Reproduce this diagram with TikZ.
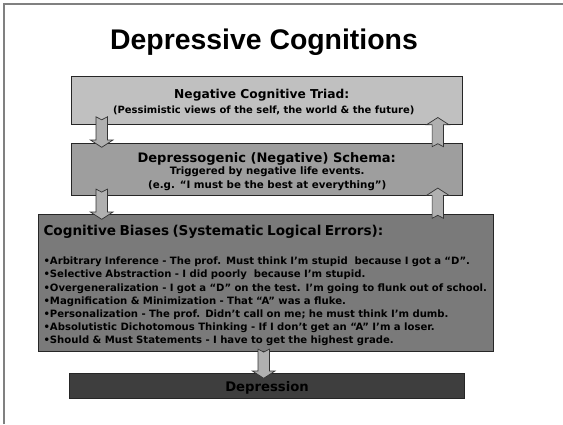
\documentclass[tikz,border=0pt]{standalone}
\usepackage{fontspec}
\setmainfont{DejaVu Sans}
\newfontfamily\headfont{Liberation Sans}
\usetikzlibrary{calc}

\newcommand{\blockarrow}[2]{%
  \filldraw[blockarr] let \p1=#1, \p2=#2, \n1={sign(\y2-\y1)} in
    ({\x1-5.7pt},\y1) -- (\x1,{\y1+\n1*3pt}) -- ({\x1+5.7pt},\y1)
    -- ({\x1+5.7pt},{\y2-\n1*7.3pt}) -- ({\x1+11.3pt},{\y2-\n1*7.3pt}) -- (\x1,\y2)
    -- ({\x1-11.3pt},{\y2-\n1*7.3pt}) -- ({\x1-5.7pt},{\y2-\n1*7.3pt}) -- cycle;
}

\begin{document}
\begin{tikzpicture}[x=1pt,y=-1pt,
    box/.style={draw=black!85,line width=0.8pt,anchor=north west,inner sep=0pt},
    line/.style={anchor=base,inner sep=0pt,font=\bfseries\fontsize{#1}{#1}\selectfont},
    blockarr/.style={fill=arrowgray,draw=black!80,line width=0.7pt,line join=miter}]
  \definecolor{triadgray}{RGB}{192,192,192}
  \definecolor{schemagray}{RGB}{158,158,158}
  \definecolor{biasgray}{RGB}{122,122,122}
  \definecolor{depgray}{RGB}{62,62,62}
  \definecolor{arrowgray}{RGB}{176,176,176}
  \useasboundingbox[fill=white] (0,0) rectangle (563,424);
  \draw[gray,line width=1.3pt] (4,424) -- (4,4) -- (563,4);
  \node[anchor=base,font=\headfont\bfseries\fontsize{28.4}{30}\selectfont] (title) at (264,49.3) {Depressive Cognitions};
  \node[box,fill=triadgray,minimum width=390.7,minimum height=48] (triad) at (71,76) {};
  \node[line=12.25] (triadhead) at ($(triad.north)+(-5,22.5)$) {Negative Cognitive Triad:};
  \node[line=9.97] (triadsub) at ($(triad.north)+(-3,37.6)$) {(Pessimistic views of the self, the world \& the future)};
  \node[box,fill=schemagray,minimum width=390.7,minimum height=52.3] (schema) at (71,142.7) {};
  \node[line=13.05] (schemahead) at ($(schema.north)+(0,19.3)$) {Depressogenic (Negative) Schema:};
  \node[line=10.2] (schemasub) at ($(schema.north)+(0.5,32.2)$) {Triggered by negative life events.};
  \node[line=10.3] (schemaex) at ($(schema.north)+(0.5,45.3)$) {(e.g. “I must be the best at everything”)};
  \node[box,fill=biasgray,minimum width=455.6,minimum height=136.7] (biases) at (37.7,214) {};
  \node[anchor=north west,inner sep=0pt,text width=480,align=left,
        font=\bfseries\fontsize{10.1}{13.2}\selectfont] (biaslist) at ($(biases.north west)+(5.6,11)$)
        {{\fontsize{13.6}{13.2}\selectfont Cognitive Biases (Systematic Logical Errors):}\\[16pt]
         •Arbitrary Inference - The prof. Must think I’m stupid\ \ because I got a “D”.\\
         •Selective Abstraction - I did poorly\ \ because I’m stupid.\\
         •Overgeneralization - I got a “D” on the test. I’m going to flunk out of school.\\
         •Magnification \& Minimization - That “A” was a fluke.\\
         •Personalization - The prof. Didn’t call on me; he must think I’m dumb.\\
         •Absolutistic Dichotomous Thinking - If I don’t get an “A” I’m a loser.\\
         •Should \& Must Statements - I have to get the highest grade.};
  \node[box,fill=depgray,minimum width=395.3,minimum height=25,text depth=0pt,
        font=\bfseries\fontsize{13.2}{15}\selectfont] (depression) at (69,373.3) {Depression};
  \blockarrow{($(triad.south west)+(30.7,-8)$)}{($(schema.north west)+(30.7,4.6)$)}
  \blockarrow{($(schema.north east)+(-24.7,4)$)}{($(triad.south east)+(-24.7,-7.3)$)}
  \blockarrow{($(schema.south west)+(30.7,-6.7)$)}{($(biases.north)+(0,5.3)$)}
  \blockarrow{($(schema.south east |- biases.north)+(-24.7,4.3)$)}{($(schema.south)+(0,-7.7)$)}
  \blockarrow{($(biases.south)+(-2.2,-2.4)$)}{($(depression.north)+(0,5)$)}
\end{tikzpicture}
\end{document}
